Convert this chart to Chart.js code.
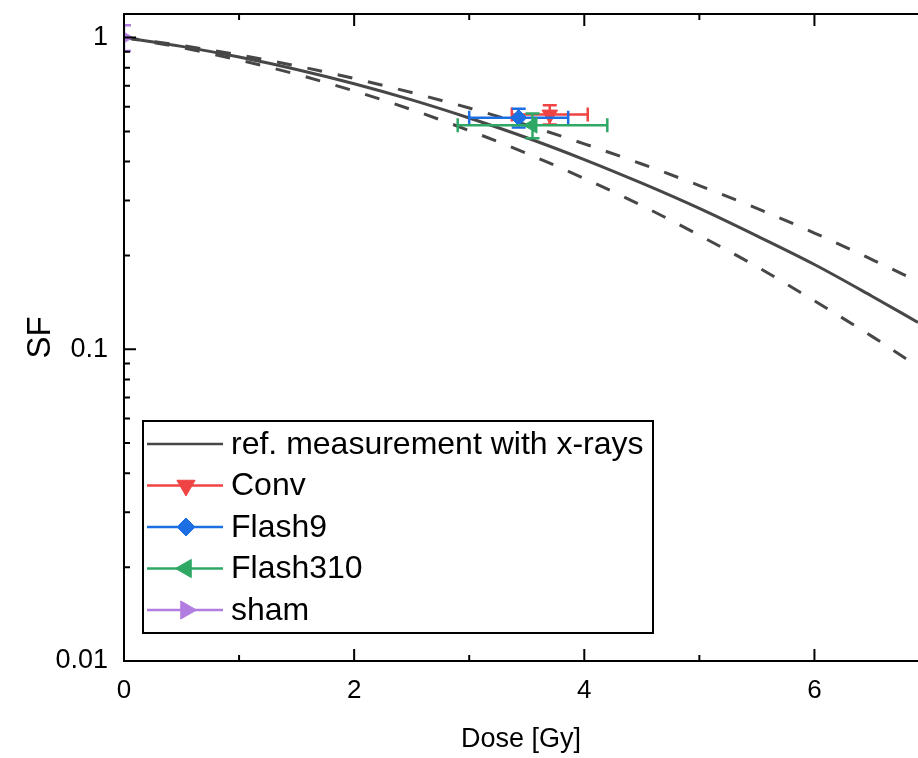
<!DOCTYPE html>
<html>
<head>
<meta charset="utf-8">
<script src="https://cdn.jsdelivr.net/npm/chart.js@4.4.1/dist/chart.umd.min.js"></script>
<style>
  html, body { margin: 0; padding: 0; background: #fff; }
  #wrap { width: 918px; height: 758px; }
</style>
</head>
<body>
<div id="wrap"><canvas id="sfChart" width="918" height="758"></canvas></div>
<script>
const doseGrid  = [0, 0.5, 1, 1.5, 2, 2.5, 3, 3.5, 4, 4.5, 5, 5.5, 6, 6.5, 6.9];
const refCurve  = [1, 0.937, 0.866, 0.790, 0.711, 0.631, 0.552, 0.477, 0.406, 0.341, 0.283, 0.231, 0.187, 0.148, 0.122];
const refUpper  = [1, 0.943, 0.879, 0.811, 0.739, 0.666, 0.594, 0.524, 0.456, 0.393, 0.335, 0.283, 0.236, 0.194, 0.165];
const refLower  = [1, 0.928, 0.847, 0.762, 0.674, 0.587, 0.503, 0.425, 0.353, 0.289, 0.232, 0.184, 0.143, 0.110, 0.088];

//measured groups
const groupNames   = ['Conv', 'Flash9', 'Flash310', 'sham'];
const groupDose    = [3.70, 3.43, 3.55, 0];
const groupDoseErr = [0.33, 0.43, 0.65, 0];
const groupSF      = [0.566, 0.553, 0.523, 1.0];
const groupSFErr   = [0.040, 0.038, 0.048, 0.095];

//axis ticks
const xTickValues = [0, 2, 4, 6];
const xMinorTicks = [1, 3, 5];
const yTickValues = [0.01, 0.1, 1];

const curveLabel = 'ref. measurement with x-rays';
const fontFamily = "'Liberation Sans', Arial, Helvetica, sans-serif";
const curveColor = '#474747';
const groupColors = ['#f04343', '#1c6fe3', '#2fa865', '#b27de0'];
const groupStyles = [
    { pointStyle: 'triangle', rotation: 180, radius: 9 },
    { pointStyle: 'rectRot', rotation: 0, radius: 8 },
    { pointStyle: 'triangle', rotation: -90, radius: 9 },
    { pointStyle: 'triangle', rotation: 90, radius: 9 }
];

function toPoints(xs, ys) {
    return xs.map((x, i) => ({ x: x, y: ys[i] }));
}

function curveSet(ys, dashed) {
    return {
        label: dashed ? '' : curveLabel,
        data: toPoints(doseGrid, ys),
        showLine: true,
        borderColor: curveColor,
        backgroundColor: curveColor,
        borderWidth: 3,
        borderDash: dashed ? [15, 16] : [],
        pointRadius: 0,
        cubicInterpolationMode: 'monotone',
        order: 10
    };
}

const groupSets = groupNames.map((name, i) => ({
    label: name,
    data: [{ x: groupDose[i], y: groupSF[i] }],
    errX: groupDoseErr[i],
    errY: groupSFErr[i],
    showLine: false,
    borderColor: groupColors[i],
    backgroundColor: groupColors[i],
    pointStyle: groupStyles[i].pointStyle,
    pointRotation: groupStyles[i].rotation,
    pointRadius: groupStyles[i].radius,
    pointBorderWidth: 1,
    clip: { left: 0, top: 30, right: 30, bottom: 30 },
    order: 4 - i
}));

//error bars drawn right before each group's marker
const errorBars = {
    id: 'errorBars',
    beforeDatasetDraw(chart, args) {
        const ds = chart.data.datasets[args.index];
        if (ds.errY === undefined) return;
        const xs = chart.scales.x, ys = chart.scales.y, area = chart.chartArea;
        const p = ds.data[0];
        const cx = xs.getPixelForValue(p.x), cy = ys.getPixelForValue(p.y);
        const ctx = chart.ctx;
        ctx.save();
        ctx.beginPath();
        ctx.rect(area.left, area.top - 30, area.right - area.left + 30, area.bottom - area.top + 60);
        ctx.clip();
        ctx.strokeStyle = ds.borderColor;
        ctx.lineWidth = 2.5;
        ctx.beginPath();
        if (ds.errX > 0) {
            const x0 = xs.getPixelForValue(p.x - ds.errX), x1 = xs.getPixelForValue(p.x + ds.errX);
            ctx.moveTo(x0, cy); ctx.lineTo(x1, cy);
            ctx.moveTo(x0, cy - 7); ctx.lineTo(x0, cy + 7);
            ctx.moveTo(x1, cy - 7); ctx.lineTo(x1, cy + 7);
        }
        if (ds.errY > 0) {
            const y0 = ys.getPixelForValue(p.y - ds.errY), y1 = ys.getPixelForValue(p.y + ds.errY);
            ctx.moveTo(cx, y0); ctx.lineTo(cx, y1);
            ctx.moveTo(cx - 7, y0); ctx.lineTo(cx + 7, y0);
            ctx.moveTo(cx - 7, y1); ctx.lineTo(cx + 7, y1);
        }
        ctx.stroke();
        ctx.restore();
    }
};

function marker(ctx, style, color, x, y, r) {
    ctx.fillStyle = color;
    ctx.strokeStyle = color;
    ctx.lineWidth = 1;
    Chart.helpers.drawPoint(ctx, { pointStyle: style.pointStyle, rotation: style.rotation, radius: r, borderWidth: 1 }, x, y);
}

//frame, inward ticks and the boxed legend
const frameAndLegend = {
    id: 'frameAndLegend',
    afterDraw(chart) {
        const ctx = chart.ctx, a = chart.chartArea;
        const xs = chart.scales.x, ys = chart.scales.y;
        ctx.save();
        ctx.strokeStyle = '#000';
        ctx.lineWidth = 2;
        ctx.beginPath();
        ctx.moveTo(a.right + 2, a.top); ctx.lineTo(a.left, a.top);
        ctx.lineTo(a.left, a.bottom); ctx.lineTo(a.right + 2, a.bottom);
        xTickValues.forEach(v => {
            const px = xs.getPixelForValue(v);
            ctx.moveTo(px, a.bottom); ctx.lineTo(px, a.bottom - 12);
            ctx.moveTo(px, a.top); ctx.lineTo(px, a.top + 12);
        });
        xMinorTicks.forEach(v => {
            const px = xs.getPixelForValue(v);
            ctx.moveTo(px, a.bottom); ctx.lineTo(px, a.bottom - 6);
            ctx.moveTo(px, a.top); ctx.lineTo(px, a.top + 6);
        });
        yTickValues.forEach(v => {
            const py = ys.getPixelForValue(v);
            ctx.moveTo(a.left, py); ctx.lineTo(a.left + 12, py);
        });
        [0.01, 0.1].forEach(dec => {
            for (let k = 2; k <= 9; k++) {
                const py = ys.getPixelForValue(dec * k);
                ctx.moveTo(a.left, py); ctx.lineTo(a.left + 6, py);
            }
        });
        ctx.stroke();

        //legend
        const bx = 143, by = 421, bw = 510, bh = 212;
        ctx.fillStyle = '#fff';
        ctx.fillRect(bx, by, bw, bh);
        ctx.strokeRect(bx, by, bw, bh);
        const rows = [curveLabel].concat(groupNames);
        ctx.font = '32px ' + fontFamily;
        ctx.textBaseline = 'middle';
        rows.forEach((txt, i) => {
            const ry = 444 + i * 41.5;
            const col = i === 0 ? curveColor : groupColors[i - 1];
            ctx.strokeStyle = col;
            ctx.lineWidth = 2.7;
            ctx.beginPath();
            ctx.moveTo(147, ry); ctx.lineTo(223, ry);
            ctx.stroke();
            if (i > 0) marker(ctx, groupStyles[i - 1], col, 186, ry, groupStyles[i - 1].pointStyle === 'rectRot' ? 9 : 10.5);
            ctx.fillStyle = '#000';
            ctx.fillText(txt, 231, ry + 1);
        });
        ctx.restore();
    }
};

const sfConfig = {
    type: 'scatter',
    data: {
        datasets: [curveSet(refCurve, false), curveSet(refUpper, true), curveSet(refLower, true)].concat(groupSets)
    },
    options: {
        responsive: false,
        animation: false,
        devicePixelRatio: 1,
        layout: { autoPadding: false, padding: { top: 14, right: 0, bottom: 0, left: 0 } },
        plugins: { legend: { display: false }, tooltip: { enabled: false } },
        scales: {
            x: {
                type: 'linear', min: 0, max: 6.9,
                grid: { display: false, drawTicks: false },
                border: { display: false },
                afterBuildTicks: s => { s.ticks = xTickValues.map(v => ({ value: v })); },
                ticks: { color: '#000', font: { family: fontFamily, size: 26 }, padding: 14, maxRotation: 0 },
                title: { display: true, text: 'Dose [Gy]', color: '#000', font: { family: fontFamily, size: 27 }, padding: { top: 0, bottom: 2 } },
                afterFit: s => { s.height = 97; s.paddingLeft = 0; s.paddingRight = 0; }
            },
            y: {
                type: 'logarithmic', min: 0.01, max: 1.19,
                grid: { display: false, drawTicks: false },
                border: { display: false },
                afterBuildTicks: s => { s.ticks = yTickValues.map(v => ({ value: v })); },
                ticks: { color: '#000', font: { family: fontFamily, size: 27 }, padding: 16, callback: v => String(v) },
                title: { display: true, text: 'SF', color: '#000', font: { family: fontFamily, size: 33 }, padding: { top: 21, bottom: 0 } },
                afterFit: s => { s.width = 124; s.paddingTop = 0; s.paddingBottom = 0; }
            }
        }
    },
    plugins: [errorBars, frameAndLegend]
};

window.onload = function() {
    const sfctx = document.getElementById('sfChart').getContext('2d');
    window.sfChart = new Chart(sfctx, sfConfig);
};
</script>
</body>
</html>
